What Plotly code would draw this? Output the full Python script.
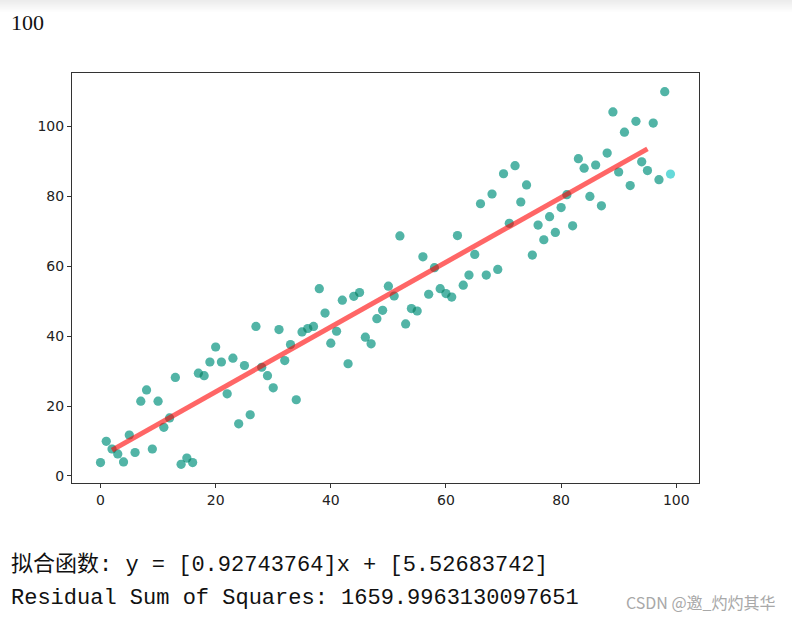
import numpy as np
import plotly.graph_objects as go

# ---- data ----
x_vals = list(range(100))
y_vals = [
    3.8, 9.9, 7.7, 6.3, 4.0, 11.7, 6.7, 21.4, 24.6, 7.7,
    21.4, 13.9, 16.6, 28.2, 3.3, 5.1, 3.8, 29.4, 28.7, 32.6,
    36.9, 32.6, 23.5, 33.7, 14.9, 31.6, 17.5, 42.8, 31.1, 28.7,
    25.2, 41.9, 33.0, 37.6, 21.8, 41.2, 42.2, 42.8, 53.6, 46.6,
    38.0, 41.4, 50.3, 32.1, 51.4, 52.5, 39.7, 37.8, 45.0, 47.4,
    54.3, 51.5, 68.7, 43.5, 47.9, 47.2, 62.7, 52.0, 59.6, 53.6,
    52.2, 51.2, 68.8, 54.6, 57.5, 63.4, 77.9, 57.5, 80.7, 59.1,
    86.5, 72.3, 88.8, 78.4, 83.3, 63.2, 71.8, 67.6, 74.2, 69.7,
    76.8, 80.5, 71.6, 90.8, 88.1, 80.0, 89.0, 77.3, 92.4, 104.2,
    87.0, 98.4, 83.1, 101.5, 89.9, 87.4, 101.0, 84.8, 110.0, 86.4,
]
n_train = 99                      # points drawn in the second (train) layer
slope = 0.92743764
intercept = 5.52683742
fit_x = [2, 95]
rss = "1659.9963130097651"
x_ticks = [0, 20, 40, 60, 80, 100]
y_ticks = [0, 20, 40, 60, 80, 100]
header_text = "100"
line1 = "拟合函数: y = [0.92743764]x + [5.52683742]"
line2 = "Residual Sum of Squares: " + rss
watermark = "CSDN @邀_灼灼其华"

fit_y = [slope * v + intercept for v in fit_x]

# axis ranges with matplotlib-like 5% margins
xmin, xmax = min(x_vals), max(x_vals)
ymin, ymax = min(y_vals), max(y_vals)
xpad = 0.05 * (xmax - xmin)
ypad = 0.05 * (ymax - ymin)

W, H = 792, 622
L, R, T, B = 72, 699, 73, 483   # plot frame in pixels

fig = go.Figure()
fig.add_trace(go.Scatter(
    x=x_vals, y=y_vals, mode="markers",
    marker=dict(size=9.2, color="rgba(0,191,191,0.6)", line=dict(width=0)),
    showlegend=False, hoverinfo="skip"))
fig.add_trace(go.Scatter(
    x=x_vals[:n_train], y=y_vals[:n_train], mode="markers",
    marker=dict(size=9.2, color="rgba(30,80,30,0.27)", line=dict(width=0)),
    showlegend=False, hoverinfo="skip"))
fig.add_trace(go.Scatter(
    x=fit_x, y=fit_y, mode="lines",
    line=dict(color="rgba(255,0,0,0.6)", width=5),
    showlegend=False, hoverinfo="skip"))

def px_x(p):
    return (p - L) / (R - L)

def px_y(p):
    return (B - p) / (B - T)

shapes = []
# top grey gradient band of the screenshot
for i in range(12):
    g = int(236 + i * 1.6)
    shapes.append(dict(type="rect", xref="paper", yref="paper",
                       x0=px_x(0), x1=px_x(W), y0=px_y(i + 1), y1=px_y(i),
                       fillcolor=f"rgb({g},{g},{g})", line=dict(width=0), layer="below"))

axis_common = dict(showline=True, linecolor="#333", linewidth=1, mirror=True,
                   showgrid=False, zeroline=False, ticks="outside", ticklen=4,
                   tickcolor="#333", tickwidth=1,
                   tickfont=dict(family="DejaVu Sans", size=14, color="#222"))

fig.update_layout(
    width=W, height=H,
    margin=dict(l=L, r=W - R, t=T, b=H - B, pad=0),
    paper_bgcolor="white", plot_bgcolor="white",
    xaxis=dict(range=[xmin - xpad, xmax + xpad], tickvals=x_ticks, **axis_common),
    yaxis=dict(range=[ymin - ypad, ymax + ypad], tickvals=y_ticks, **axis_common),
    shapes=shapes,
    annotations=[
        dict(text=header_text, xref="paper", yref="paper", x=px_x(9), y=px_y(23),
             xanchor="left", yanchor="middle", showarrow=False,
             font=dict(family="Liberation Serif", size=22, color="#111")),
        dict(text=line1, xref="paper", yref="paper", x=px_x(9), y=px_y(565),
             xanchor="left", yanchor="middle", showarrow=False,
             font=dict(family="Liberation Mono, Noto Sans CJK SC", size=22, color="#111")),
        dict(text=line2, xref="paper", yref="paper", x=px_x(9), y=px_y(598),
             xanchor="left", yanchor="middle", showarrow=False,
             font=dict(family="Liberation Mono", size=22, color="#111")),
        dict(text=watermark, xref="paper", yref="paper", x=px_x(778), y=px_y(602),
             xanchor="right", yanchor="middle", showarrow=False,
             font=dict(family="Noto Sans CJK SC", size=16, color="#a8a8a8")),
    ],
)

fig.write_html("out.html")
